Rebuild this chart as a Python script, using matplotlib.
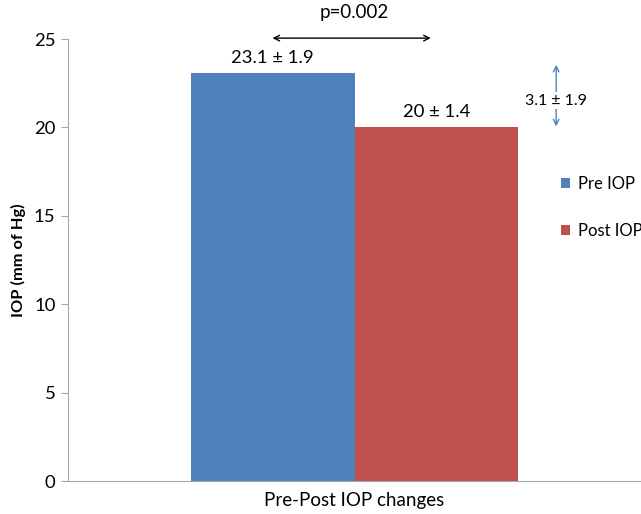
import matplotlib
matplotlib.use("Agg")
import matplotlib.pyplot as plt

categories = ["Pre-Post IOP changes"]
series_names = ["Pre IOP", "Post IOP"]
series_values = [23.1, 20.0]
series_labels = ["23.1 \u00b1 1.9", "20 \u00b1 1.4"]
colors = ["#4F81BD", "#C0504D"]
yticks = [0, 5, 10, 15, 20, 25]
p_text = "p=0.002"
diff_text = "3.1 \u00b1 1.9"

plt.rcParams['font.family'] = ['Lato', 'DejaVu Sans']

fig = plt.figure(figsize=(6.41, 5.14), dpi=100)
ax = fig.add_axes([68/641, 33/514, 573/641, 442/514])

offsets = [-0.143, 0.143]
width = 0.286
handles = []
for off, v, c, name, lab in zip(offsets, series_values, colors, series_names, series_labels):
    b = ax.bar(off, v, width=width, color=c, label=name)
    handles.append(b)
    ax.text(off, v + 0.4, lab, ha='center', va='bottom', fontsize=13.3)

ax.set_xlim(-0.5, 0.5)
ax.set_ylim(0, 25)
ax.set_yticks(yticks)
ax.set_yticklabels([str(t) for t in yticks], fontsize=13.3)
ax.set_xticks([0])
ax.set_xticklabels(categories, fontsize=13.5)
ax.tick_params(axis='x', length=0, pad=8)
ax.tick_params(axis='y', length=5, color='#A6A6A6', pad=4)
for s in ['top', 'right']:
    ax.spines[s].set_visible(False)
for s in ['left', 'bottom']:
    ax.spines[s].set_color('#A6A6A6')
ax.set_ylabel("IOP (mm of Hg)", fontsize=11.8, fontweight='bold', labelpad=6)

# p-value double arrow
ax.annotate('', xy=(offsets[1] - 0.005, 25.05), xytext=(offsets[0] - 0.005, 25.05),
            arrowprops=dict(arrowstyle='<->', color='black', lw=1.0), annotation_clip=False)
ax.text(0.0, 26.0, p_text, ha='center', va='bottom', fontsize=13.5)

# difference arrow
xd = 0.352
ax.annotate('', xy=(xd, series_values[0] + 0.6), xytext=(xd, 21.6),
            arrowprops=dict(arrowstyle='->', color='#4F81BD', lw=1.0))
ax.annotate('', xy=(xd, series_values[1] - 0.1), xytext=(xd, 21.3),
            arrowprops=dict(arrowstyle='->', color='#4F81BD', lw=1.0))
ax.text(xd, 21.5, diff_text, ha='center', va='center', fontsize=11.5,
        bbox=dict(facecolor='white', edgecolor='none', pad=1))

leg = ax.legend(handles=handles, labels=series_names, loc='upper left',
                frameon=False, fontsize=12, handlelength=0.55, handleheight=0.55,
                handletextpad=0.45, labelspacing=1.85, borderpad=0, borderaxespad=0)
leg.set_bbox_to_anchor((561/641, (514 - 176)/514), transform=fig.transFigure)

fig.savefig("out.png", dpi=100)
